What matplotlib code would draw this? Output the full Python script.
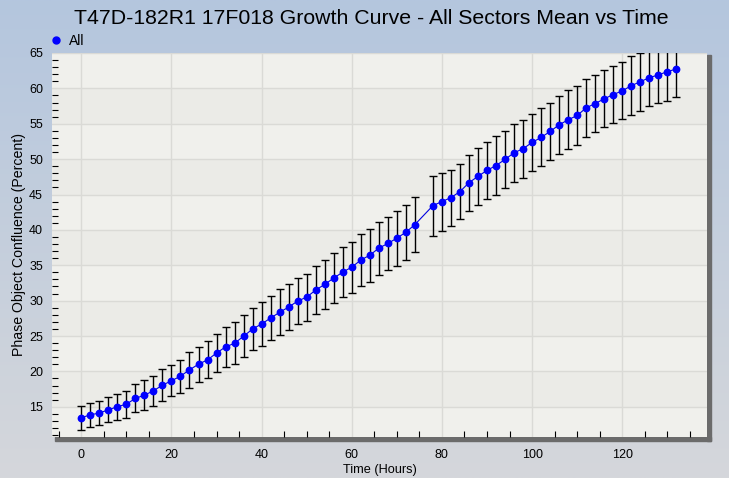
"""
Growth curve - confluence moyenne de tous les secteurs vs temps
"""

import numpy as np
import matplotlib
matplotlib.use('Agg')
import matplotlib.pyplot as plt
from matplotlib.lines import Line2D
from matplotlib.patches import Rectangle

matplotlib.rcParams['font.family'] = ['Liberation Sans', 'DejaVu Sans']

# ============================================================
# Données
# ============================================================

hours = list(range(0, 76, 2)) + list(range(78, 134, 2))

confluence_mean = [
    13.45, 13.87, 14.11, 14.58, 15.00, 15.38, 16.18, 16.65, 17.25, 18.06,
    18.67, 19.33, 20.22, 21.02, 21.63, 22.60, 23.46, 23.98, 24.97, 26.00,
    26.70, 27.55, 28.35, 29.10, 29.94, 30.50, 31.50, 32.30, 33.19, 34.03,
    34.74, 35.73, 36.43, 37.42, 38.08, 38.83, 39.67, 40.75,
    43.43, 44.00, 44.56, 45.41, 46.67, 47.57, 48.41, 49.10, 49.96, 50.90,
    51.47, 52.36, 53.07, 53.91, 54.85, 55.56, 56.17, 57.25, 57.86, 58.52,
    59.13, 59.64, 60.39, 60.93, 61.52, 61.90, 62.37, 62.74,
]

confluence_err = [
    1.70, 1.67, 1.69, 1.80, 1.80, 1.90, 1.97, 2.10, 2.09, 2.25,
    2.18, 2.33, 2.50, 2.50, 2.60, 2.75, 2.80, 2.96, 2.96, 3.00,
    3.10, 3.15, 3.27, 3.24, 3.30, 3.33, 3.40, 3.50, 3.55, 3.55,
    3.60, 3.65, 3.73, 3.73, 3.80, 3.87, 3.87, 3.93,
    4.25, 4.10, 3.97, 3.90, 3.97, 4.07, 4.02, 4.12, 4.03, 4.09,
    4.09, 4.04, 4.11, 4.09, 4.09, 4.16, 4.16, 4.09, 4.02, 4.03,
    4.02, 4.02, 4.13, 4.09, 4.00, 4.00, 4.18, 4.00,
]

series_label = "All"
title = "T47D-182R1 17F018 Growth Curve - All Sectors Mean vs Time"

W, H = 729, 478
fig = plt.figure(figsize=(W / 100, H / 100), dpi=100)

# ============================================================
# Fond en dégradé
# ============================================================

bg = fig.add_axes([0, 0, 1, 1], zorder=-10)
top_col = np.array([180, 198, 222]) / 255
bot_col = np.array([213, 215, 219]) / 255
t = np.linspace(0, 1, 256)[:, None]
grad = top_col * (1 - t) + bot_col * t
bg.imshow(grad[:, None, :].repeat(2, axis=1), aspect='auto', extent=[0, 1, 0, 1])
bg.set_axis_off()

# ============================================================
# Zone de tracé
# ============================================================

left, right, top, bottom = 52, 707, 53, 437
ax = fig.add_axes([left / W, 1 - bottom / H, (right - left) / W, (bottom - top) / H])
ax.set_facecolor('#f0f0ec')

# ombre du cadre (droite et bas)
shadow = '#6b6b6b'
fig.patches.append(Rectangle((right / W, 1 - (bottom + 4) / H), 4 / W, (bottom - top + 2) / H,
                             transform=fig.transFigure, color=shadow, zorder=-5))
fig.patches.append(Rectangle(((left + 3) / W, 1 - (bottom + 4) / H), (right - left + 1) / W, 4 / H,
                             transform=fig.transFigure, color=shadow, zorder=-5))

ax.set_xlim(-6.5, 138.8)
ax.set_ylim(10.73, 65)

# bandes horizontales alternées
for k, y0 in enumerate(range(60, 5, -5)):
    if k % 2 == 1:
        ax.axhspan(y0, y0 + 5, color='#ebebe7', zorder=0, lw=0)

ax.set_xticks(range(0, 140, 20))
ax.set_xticks(range(-5, 139, 5), minor=True)
ax.set_yticks(range(15, 66, 5))
ax.set_yticks(range(11, 66, 1), minor=True)

ax.grid(True, which='major', color='#dadad6', lw=1, zorder=0.5)
ax.tick_params(which='major', length=0, labelsize=9, pad=6.5)
ax.tick_params(axis='x', which='major', pad=9)
ax.tick_params(which='minor', direction='in', length=4.3, width=0.8, color='black')
for s in ax.spines.values():
    s.set_visible(False)

ax.errorbar(hours, confluence_mean, yerr=confluence_err, fmt='none',
            ecolor='black', elinewidth=1, capsize=3, capthick=1, zorder=2)
ax.plot(hours, confluence_mean, color='#0000e0', lw=0.8, marker='o',
        markersize=4.6, markerfacecolor='#0000ff', markeredgecolor='#0000ff', zorder=3)

ax.set_xlabel("Time (Hours)", fontsize=9.2, labelpad=2)
ax.set_ylabel("Phase Object Confluence (Percent)", fontsize=10.2, labelpad=2)

fig.text(371 / W, 1 - 18 / H, title, ha='center', va='center', fontsize=15.3)

handle = Line2D([], [], linestyle='none', marker='o', markersize=5,
                color='#0000ff', label=series_label)
ax.legend(handles=[handle], loc='center left', bbox_to_anchor=(50 / W, 1 - 41 / H),
          bbox_transform=fig.transFigure, frameon=False, fontsize=10,
          handlelength=0.8, handletextpad=0.6, borderpad=0, borderaxespad=0)

fig.savefig('out.png', dpi=100)
